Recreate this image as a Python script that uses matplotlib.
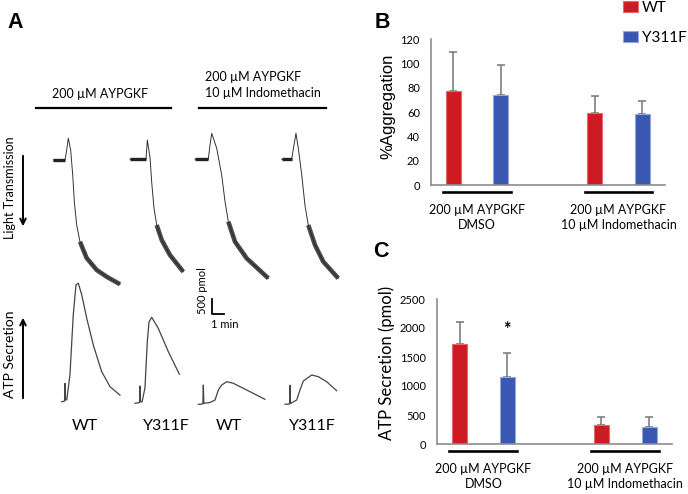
import matplotlib
matplotlib.use("Agg")
import matplotlib.pyplot as plt
from matplotlib.transforms import Affine2D, blended_transform_factory
from matplotlib.patches import Patch
import numpy as np

plt.rcParams['font.family'] = ['Lato', 'DejaVu Sans']

# ---------------- data ----------------
groups = ["200 µM AYPGKF\nDMSO", "200 µM AYPGKF\n10 µM Indomethacin"]
series = ["WT", "Y311F"]
agg_mean = {"WT": [77.5, 59.0], "Y311F": [74.0, 58.3]}
agg_err = {"WT": [31.5, 14.5], "Y311F": [25.0, 10.7]}
atp_mean = {"WT": [1720, 333], "Y311F": [1155, 293]}
atp_err = {"WT": [388, 138], "Y311F": [414, 174]}
agg_ticks = [0, 20, 40, 60, 80, 100, 120]
atp_ticks = [0, 500, 1000, 1500, 2000, 2500]

trace_labels = ["WT", "Y311F", "WT", "Y311F"]
# light transmission traces: time (min) and aggregation (%)
lt_t = [
    [0, 0.95, 1.09, 1.22, 1.41, 1.58, 1.71, 1.90, 2.17, 2.71, 3.53, 4.34, 5.42],
    [0, 1.30, 1.41, 1.63, 1.76, 1.95, 2.17, 2.58, 3.25, 4.33],
    [0, 1.08, 1.22, 1.36, 1.76, 2.17, 2.44, 2.71, 3.25, 4.20, 5.96],
    [0, 0.81, 1.00, 1.16, 1.35, 1.63, 1.89, 2.16, 2.71, 3.38, 4.60],
]
lt_v = [
    [0, 0, -8, -17.4, -8, 12, 33.4, 52, 65.4, 78.4, 88, 93.4, 99.4],
    [0, 0, -15.4, -1, 17.9, 39, 52.6, 64.6, 76.6, 90],
    [0, 0, -11.4, -20.8, -9, 12.6, 33.9, 49.9, 65.9, 79.2, 95.2],
    [0, 0, -11.4, -20.8, -8.8, 12.6, 36.6, 52.6, 68.6, 81.9, 95.2],
]
lt_tail_start = [8, 6, 7, 7]
# ATP secretion traces: time (min) and ATP (pmol)
atp_t = [
    [0, 0.23, 0.27, 0.31, 0.41, 0.67, 0.94, 1.16, 1.35, 1.63, 2.03, 2.57, 3.25, 3.93, 4.74],
    [0, 0.37, 0.41, 0.45, 0.57, 0.81, 1.00, 1.14, 1.36, 1.89, 2.71, 3.61],
    [0, 0.37, 0.41, 0.45, 0.95, 1.36, 1.63, 1.90, 2.31, 2.85, 3.93, 5.42],
    [0, 0.37, 0.41, 0.45, 0.95, 1.22, 1.49, 2.17, 2.71, 3.39, 4.20],
]
atp_v = [
    [0, 20, 610, 60, 60, 890, 2890, 3890, 3950, 3560, 2790, 1890, 1000, 500, 220],
    [0, 27, 577, 53, 43, 510, 2053, 2720, 2867, 2500, 1720, 967],
    [0, 10, 643, 33, 60, 143, 477, 643, 753, 700, 477, 167],
    [0, 10, 633, 27, 143, 477, 777, 977, 920, 753, 453],
]

colors = {"WT": "#CC1B22", "Y311F": "#3A57B2"}
edges = {"WT": "#E26A6A", "Y311F": "#93A8E0"}

W, H = 688, 494
fig = plt.figure(figsize=(W / 100, H / 100), dpi=100)

# ---------------- panel A (figure-pixel canvas) ----------------
ax0 = fig.add_axes([0, 0, 1, 1], zorder=0)
ax0.set_xlim(0, W)
ax0.set_ylim(H, 0)
ax0.axis('off')
ax0.patch.set_alpha(0)

px_per_min = 12.3
px_per_pct = 1.25
px_per_pmol = 15 / 500.0
lt_origin = [(53.3, 160), (130, 159.3), (195, 159.3), (281.7, 159.3)]
atp_origin = [(61.7, 401.7), (135, 403.3), (198.3, 404.3), (285, 404.3)]
label_x = [85, 166, 229, 312]

for i in range(4):
    tr = Affine2D().scale(px_per_min, px_per_pct).translate(*lt_origin[i]) + ax0.transData
    t = np.array(lt_t[i]); v = np.array(lt_v[i])
    ax0.plot(t, v, color='#333333', lw=0.7, transform=tr)
    ax0.plot(t[:2], v[:2], color='#222222', lw=2.4, transform=tr, solid_capstyle='butt')
    k = lt_tail_start[i]
    ax0.plot(t[k:], v[k:], color='#2a2a2a', lw=3.3, alpha=0.85, transform=tr,
             solid_capstyle='butt')
    tr2 = Affine2D().scale(px_per_min, -px_per_pmol).translate(*atp_origin[i]) + ax0.transData
    ax0.plot(atp_t[i], atp_v[i], color='#444444', lw=0.9, transform=tr2)
    ax0.text(label_x[i], 426, trace_labels[i], ha='center', va='center', fontsize=11.5)

# scale bar
trs = Affine2D().scale(px_per_min, -px_per_pmol).translate(211.7, 314) + ax0.transData
ax0.plot([0, 0, 1], [500, 0, 0], color='black', lw=1.3, transform=trs)
ax0.text(202, 291, "500 pmol", rotation=90, ha='center', va='center', fontsize=8)
ax0.text(225, 324, "1 min", ha='center', va='center', fontsize=8)

ax0.text(15, 22, "A", ha='center', va='center', fontsize=15.5, fontweight='bold',
         family='Liberation Sans')
ax0.text(100, 94, "200 µM AYPGKF", ha='center', va='center', fontsize=9)
ax0.plot([36, 171], [108, 108], color='black', lw=1.6)
ax0.text(263, 85, "200 µM AYPGKF\n10 µM Indomethacin", ha='center', va='center',
         fontsize=9, multialignment='left', linespacing=1.35)
ax0.plot([199, 326], [108, 108], color='black', lw=1.6)

ax0.text(10, 188, "Light Transmission", rotation=90, ha='center', va='center', fontsize=9)
ax0.annotate("", xy=(23, 229), xytext=(23, 153),
             arrowprops=dict(arrowstyle='->', color='black', lw=1.4, mutation_scale=10))
ax0.text(10, 354, "ATP Secretion", rotation=90, ha='center', va='center', fontsize=10)
ax0.annotate("", xy=(23, 315), xytext=(23, 401),
             arrowprops=dict(arrowstyle='->', color='black', lw=1.4, mutation_scale=10))

ax0.text(382, 22, "B", ha='center', va='center', fontsize=15.5, fontweight='bold',
         family='Liberation Sans')
ax0.text(381, 251, "C", ha='center', va='center', fontsize=15.5, fontweight='bold',
         family='Liberation Sans')

# ---------------- bar panels ----------------
xg = np.arange(len(groups))
off = 0.168
bw = 0.106


def bar_panel(rect, means, errs, ticks, ylim, ylabel, lab_xy, lab_fs, lab_family):
    l, b, w, h = rect
    ax = fig.add_axes([l / W, (H - b) / H, w / W, h / H], zorder=1)
    ax.patch.set_alpha(0)
    for j, s in enumerate(series):
        pos = xg + (-off if j == 0 else off)
        ax.bar(pos, means[s], width=bw, color=colors[s], edgecolor=edges[s], lw=0.8,
               zorder=2)
        ax.errorbar(pos, means[s], yerr=[np.zeros(len(groups)), errs[s]], fmt='none',
                    ecolor='#7F7F7F', elinewidth=1.2, capsize=3, capthick=1.2, zorder=1)
    ax.set_xlim(-0.327, 1.329)
    ax.set_ylim(*ylim)
    ax.set_yticks(ticks)
    ax.tick_params(axis='y', length=0, pad=8, labelsize=8)
    ax.set_xticks(xg)
    ax.set_xticklabels(groups, fontsize=9, linespacing=1.3)
    ax.tick_params(axis='x', length=0, pad=14)
    for sp in ['top', 'right']:
        ax.spines[sp].set_visible(False)
    for sp in ['left', 'bottom']:
        ax.spines[sp].set_color('#8C8C8C')
        ax.spines[sp].set_linewidth(1.2)
    ax.set_ylabel(ylabel, fontsize=lab_fs, ha='center', va='center', family=lab_family)
    ax.yaxis.set_label_coords(*lab_xy)
    trb = blended_transform_factory(ax.transData, ax.transAxes)
    for g in xg:
        ax.plot([g - 0.24, g + 0.24], [-7 / h, -7 / h], color='black', lw=1.9,
                transform=trb, clip_on=False)
    return ax


axB = bar_panel((431, 185, 234, 146), agg_mean, agg_err, agg_ticks, (0, 120),
                "%Aggregation", (-0.186, 0.536), 12, ['Liberation Sans'])
axC = bar_panel((437, 444, 235, 145), atp_mean, atp_err, atp_ticks, (0, 2500),
                "ATP Secretion (pmol)", (-0.215, 0.559), 12, ['Lato'])
axC.text(off, atp_mean["Y311F"][0] + atp_err["Y311F"][0] + 400, "*", ha='center',
         va='center', fontsize=13, fontweight='bold')

handles = [Patch(facecolor=colors[s], edgecolor=edges[s], lw=0.8) for s in series]
fig.legend(handles, series, loc='upper left', bbox_to_anchor=(623 / W, 1 - 1 / H),
           frameon=False, fontsize=11, borderpad=0, borderaxespad=0,
           handlelength=0.95, handleheight=0.68, handletextpad=0.3, labelspacing=1.05)

fig.savefig("out.png", dpi=100)
